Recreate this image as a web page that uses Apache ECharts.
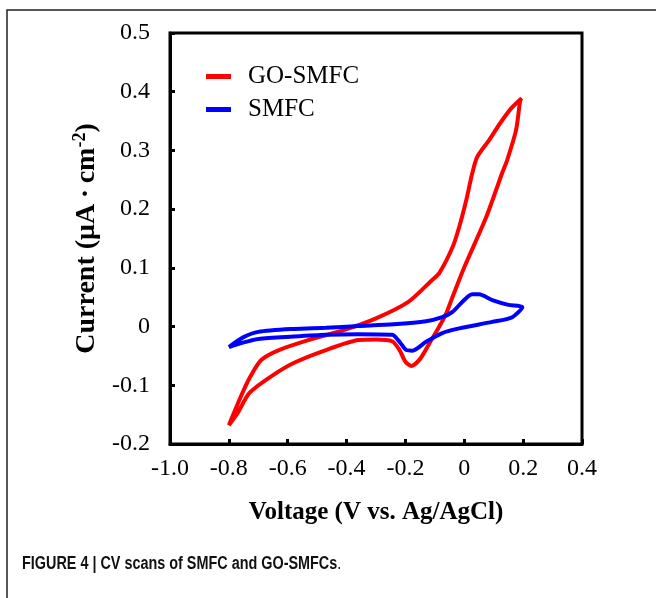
<!DOCTYPE html>
<html>
<head>
<meta charset="utf-8">
<script src="https://cdn.jsdelivr.net/npm/echarts@6/dist/echarts.min.js"></script>
<style>
  html, body { margin: 0; padding: 0; background: #fff; }
  #chart { width: 656px; height: 598px; }
</style>
</head>
<body>
<div id="chart"></div>
<script>
// GO-SMFC loop: forward scan then reverse scan
const goVoltage = [
  -0.80, -0.76, -0.73, -0.69, -0.63, -0.53, -0.41, -0.30, -0.19, -0.11,
  -0.085, -0.04, -0.017, 0.007, 0.027, 0.044, 0.085, 0.12, 0.16, 0.195,
  0.19, 0.176, 0.146, 0.129, 0.075, 0.0, -0.044, -0.061, -0.085, -0.12,
  -0.15, -0.18, -0.20, -0.22, -0.245, -0.30, -0.36, -0.47, -0.58, -0.66,
  -0.73, -0.77, -0.80,
];
const goCurrent = [
  -0.168, -0.120, -0.088, -0.057, -0.040, -0.023, -0.006, 0.014, 0.042, 0.079,
  0.091, 0.135, 0.170, 0.216, 0.261, 0.289, 0.318, 0.345, 0.372, 0.389,
  0.385, 0.335, 0.284, 0.262, 0.187, 0.101, 0.045, 0.023, 0.000, -0.030,
  -0.055, -0.067, -0.060, -0.040, -0.025, -0.022, -0.023, -0.040, -0.062, -0.086,
  -0.113, -0.147, -0.168,
];

// SMFC loop
const smVoltage = [
  -0.80, -0.75, -0.70, -0.58, -0.47, -0.36, -0.24, -0.13, -0.075, -0.04,
  -0.007, 0.027, 0.05, 0.095, 0.15, 0.197,
  0.163, 0.095, -0.017, -0.075, -0.13, -0.176, -0.197, -0.22, -0.245, -0.36,
  -0.47, -0.58, -0.70, -0.75, -0.80,
];
const smCurrent = [
  -0.035, -0.018, -0.009, -0.004, -0.002, 0.001, 0.004, 0.009, 0.016, 0.025,
  0.042, 0.055, 0.055, 0.045, 0.037, 0.033,
  0.016, 0.008, -0.003, -0.011, -0.026, -0.041, -0.040, -0.026, -0.014, -0.013,
  -0.014, -0.017, -0.021, -0.027, -0.035,
];

const seriesNames = ["GO-SMFC", "SMFC"];

const serif = "Liberation Serif, Times New Roman, serif";
const sans = "Liberation Sans, Arial, sans-serif";

const zip = (xs, ys) => xs.map((x, i) => [x, ys[i]]);

const fmt = (v) => (Math.abs(v) < 1e-9 ? "0" : v.toFixed(1));

var chartDom = document.getElementById("chart");
var myChart = echarts.init(chartDom);
var option;

option = {
  animation: false,
  graphic: [
    {
      type: "polyline",
      shape: { points: [[656, 10], [7, 10], [7, 598]] },
      style: { stroke: "#222", lineWidth: 1.5, fill: null },
    },
    {
      // caption, squeezed to look like the condensed journal font
      type: "text",
      x: 22,
      y: 555,
      scaleX: 0.8,
      style: {
        text: "{b|FIGURE 4 | CV scans of SMFC and GO-SMFCs}{n|.}",
        rich: {
          b: { fontFamily: sans, fontWeight: "bold", fontSize: 18, fill: "#111" },
          n: { fontFamily: sans, fontSize: 18, fill: "#111" },
        },
      },
    },
  ],
  legend: {
    data: seriesNames,
    orient: "vertical",
    left: 201,
    top: 59,
    icon: "rect",
    itemWidth: 25,
    itemHeight: 5,
    itemGap: 8,
    textStyle: {
      fontFamily: serif,
      fontSize: 25,
      lineHeight: 24,
      color: "#000",
      padding: [0, 0, 0, 12],
    },
  },
  grid: {
    left: 170,
    right: 74,
    top: 33,
    bottom: 154,
    show: true,
    borderColor: "#000",
    borderWidth: 3,
  },
  xAxis: {
    type: "value",
    min: -1.0,
    max: 0.4,
    interval: 0.2,
    name: "Voltage (V vs. Ag/AgCl)",
    nameLocation: "middle",
    nameGap: 56,
    nameTextStyle: {
      fontFamily: serif,
      fontWeight: "bold",
      fontSize: 25,
      color: "#000",
    },
    axisLine: { onZero: false, lineStyle: { color: "#000", width: 3 } },
    axisTick: { inside: true, length: 5, lineStyle: { color: "#000", width: 3 } },
    axisLabel: {
      formatter: fmt,
      fontFamily: serif,
      fontSize: 24,
      color: "#000",
      margin: 13,
    },
    splitLine: { show: false },
  },
  yAxis: {
    type: "value",
    min: -0.2,
    max: 0.5,
    interval: 0.1,
    name: "Current (μA\u2009·\u2009cm{sup|-2})",
    nameLocation: "middle",
    nameRotate: 90,
    nameGap: 66,
    nameTextStyle: {
      fontFamily: serif,
      fontWeight: "bold",
      fontSize: 28,
      color: "#000",
      rich: {
        sup: {
          fontFamily: serif,
          fontWeight: "bold",
          fontSize: 18,
          verticalAlign: "top",
          padding: [0, 0, 14, 0],
          color: "#000",
        },
      },
    },
    axisLine: { onZero: false, lineStyle: { color: "#000", width: 3 } },
    axisTick: { inside: true, length: 5, lineStyle: { color: "#000", width: 3 } },
    axisLabel: {
      formatter: fmt,
      fontFamily: serif,
      fontSize: 24,
      color: "#000",
      margin: 20,
    },
    splitLine: { show: false },
  },
  series: [
    {
      name: seriesNames[0],
      type: "line",
      data: zip(goVoltage, goCurrent),
      showSymbol: false,
      smooth: 0.25,
      color: "#ff0000",
      lineStyle: { width: 4, color: "#ff0000" },
    },
    {
      name: seriesNames[1],
      type: "line",
      data: zip(smVoltage, smCurrent),
      showSymbol: false,
      smooth: 0.25,
      color: "#0000ff",
      lineStyle: { width: 4, color: "#0000ff" },
    },
  ],
};

option && myChart.setOption(option);
</script>
</body>
</html>
